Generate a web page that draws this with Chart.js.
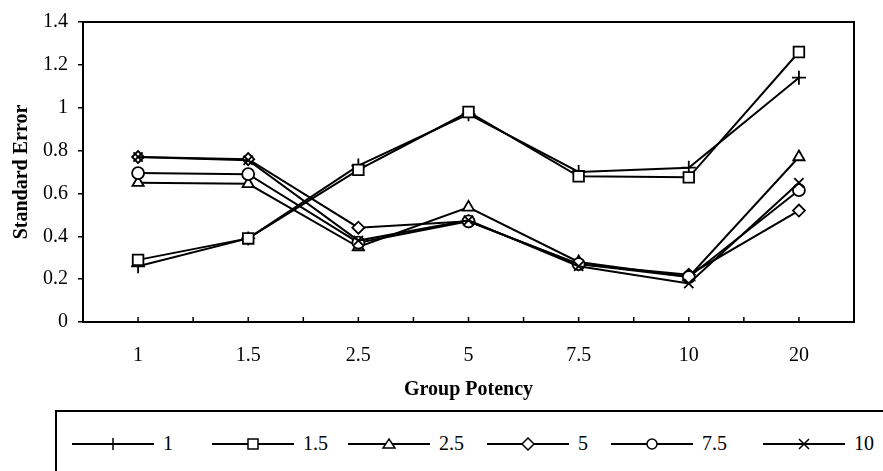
<!DOCTYPE html>
<html>
<head>
<meta charset="utf-8">
<script src="https://cdn.jsdelivr.net/npm/chart.js@4.4.1/dist/chart.umd.min.js"></script>
<style>
	body { margin: 0; background: #fff; }
	#wrap { position: absolute; left: 0; top: 0; width: 883px; height: 405px; }
	#legendBox {
		position: absolute; left: 55px; top: 410px; width: 900px; height: 100px;
		border-top: 2px solid #000; border-left: 2px solid #000; box-sizing: border-box;
	}
	.item { position: absolute; top: 20px; display: flex; align-items: center;
		font-family: "Liberation Serif", serif; font-size: 20px; color: #000; }
	.item svg { margin-right: 9px; }
</style>
</head>
<body>
<div id="wrap"><canvas id="mycanvas"></canvas></div>
<div id="legendBox"></div>
<script>
var potency = ['1', '1.5', '2.5', '5', '7.5', '10', '20'];
var seriesNames = ['1', '1.5', '2.5', '5', '7.5', '10'];
var se1   = [0.26, 0.39, 0.73, 0.97, 0.70, 0.72, 1.14];
var se1_5 = [0.29, 0.39, 0.71, 0.98, 0.68, 0.675, 1.26];
var se2_5 = [0.65, 0.645, 0.35, 0.535, 0.28, 0.21, 0.77];
var se5   = [0.77, 0.76, 0.44, 0.47, 0.27, 0.22, 0.52];
var se7_5 = [0.695, 0.69, 0.37, 0.47, 0.27, 0.21, 0.615];
var se10  = [0.77, 0.755, 0.38, 0.475, 0.26, 0.18, 0.65];
var yTicks = [0, 0.2, 0.4, 0.6, 0.8, 1, 1.2, 1.4];

var styles = ['cross', 'rect', 'triangle', 'rectRot', 'circle', 'crossRot'];
var radii = [7, 7.5, 6.5, 6, 6, 6.5];
var allData = [se1, se1_5, se2_5, se5, se7_5, se10];
var serif = '"Liberation Serif", "Times New Roman", serif';

var datasets = [];
for (var i in allData) {
	datasets.push({
		label: seriesNames[i],
		data: allData[i],
		order: allData.length - i,   // later series drawn on top
		borderColor: '#000',
		backgroundColor: '#fff',
		borderWidth: 2,
		pointStyle: styles[i],
		pointRadius: radii[i],
		pointBorderWidth: 1.8,
		pointBackgroundColor: '#fff',
		pointBorderColor: '#000',
		tension: 0
	});
}

// box round the plot and the little inward ticks on the x axis
var framePlugin = {
	id: 'frame',
	afterDraw: function(chart) {
		var a = chart.chartArea, ctx = chart.ctx, x = chart.scales.x;
		ctx.save();
		ctx.strokeStyle = '#000';
		ctx.lineWidth = 2;
		ctx.strokeRect(a.left, a.top, a.right - a.left, a.bottom - a.top);
		ctx.lineWidth = 1.5;
		var step = (x.getPixelForValue(1) - x.getPixelForValue(0)) / 2;
		for (var k = 0; k < potency.length * 2; k++) {
			var px = x.getPixelForValue(0) + k * step;
			ctx.beginPath();
			ctx.moveTo(px, a.bottom);
			ctx.lineTo(px, a.bottom - 5);
			ctx.stroke();
		}
		ctx.restore();
	}
};

var ctx = document.getElementById('mycanvas');
var chart = new Chart(ctx, {
	type: 'line',
	data: { labels: potency, datasets: datasets },
	options: {
		responsive: true,
		maintainAspectRatio: false,
		animation: false,
		layout: { padding: { left: 0, right: 29, top: 15, bottom: 3 } },
		plugins: { legend: { display: false }, tooltip: { enabled: false } },
		scales: {
			x: {
				offset: true,
				afterFit: function(scale) { scale.height = 80; },
				grid: { display: false, drawTicks: false },
				border: { display: false },
				ticks: { color: '#000', padding: 22, font: { family: serif, size: 20 } },
				title: { display: true, text: 'Group Potency', color: '#000',
					font: { family: serif, size: 20, weight: 'bold' }, padding: { top: 0, bottom: 0 } }
			},
			y: {
				min: 0, max: 1.4,
				afterFit: function(scale) { scale.width = 83; },
				afterBuildTicks: function(scale) {
					scale.ticks = yTicks.map(function(v) { return { value: v }; });
				},
				grid: { drawOnChartArea: false, drawTicks: true, tickLength: 5, color: '#000', lineWidth: 1.5 },
				border: { display: false },
				ticks: { color: '#000', padding: 10, font: { family: serif, size: 20 },
					callback: function(v) { return String(Math.round(v * 10) / 10); } },
				title: { display: true, text: 'Standard Error', color: '#000',
					font: { family: serif, size: 20, weight: 'bold' }, padding: { top: 10, bottom: 0 } }
			}
		}
	},
	plugins: [framePlugin]
});

// legend: line with marker, then the label
var legendX = [72, 212, 348, 487, 611, 763];
var svgMarks = [
	'<line x1="41" y1="4" x2="41" y2="16" stroke="#000" stroke-width="1.5"/>',
	'<rect x="36" y="5" width="10" height="10" fill="#fff" stroke="#000" stroke-width="1.5"/>',
	'<polygon points="41,5 47,14 35,14" fill="#fff" stroke="#000" stroke-width="1.5"/>',
	'<polygon points="41,4 47,10 41,16 35,10" fill="#fff" stroke="#000" stroke-width="1.5"/>',
	'<circle cx="41" cy="10" r="5" fill="#fff" stroke="#000" stroke-width="1.5"/>',
	'<path d="M36 5 L46 15 M46 5 L36 15" stroke="#000" stroke-width="1.5"/>'
];
var box = document.getElementById('legendBox');
for (var j in seriesNames) {
	var d = document.createElement('div');
	d.className = 'item';
	d.style.left = (legendX[j] - 57) + 'px';
	d.innerHTML = '<svg width="82" height="20"><line x1="0" y1="10" x2="82" y2="10" stroke="#000" stroke-width="1.8"/>' +
		svgMarks[j] + '</svg><span>' + seriesNames[j] + '</span>';
	box.appendChild(d);
}
</script>
</body>
</html>
